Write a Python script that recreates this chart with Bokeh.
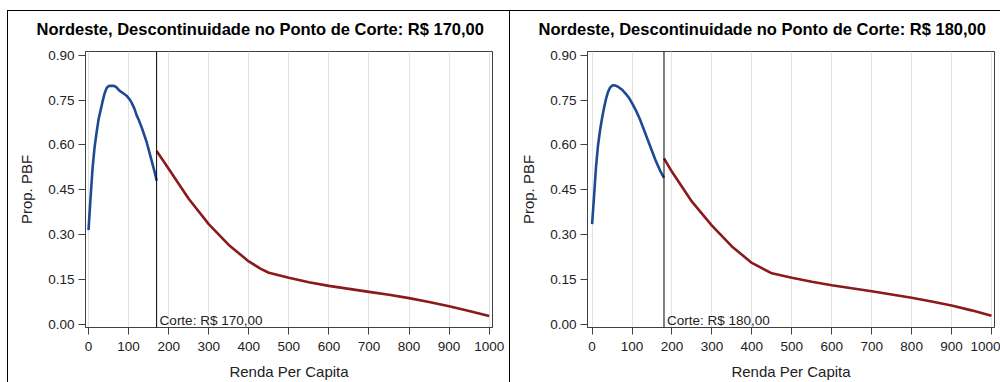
from bokeh.plotting import figure
from bokeh.models import Range1d, FixedTicker, PrintfTickFormatter, Span, Label, Title
from bokeh.layouts import row
from bokeh.embed import file_html
from bokeh.resources import INLINE

x_ticks = [0, 100, 200, 300, 400, 500, 600, 700, 800, 900, 1000]
y_ticks = [0.0, 0.15, 0.30, 0.45, 0.60, 0.75, 0.90]

cut_left = 170
cut_right = 180

# Left panel (cut 170)
l_blue_x = [0, 5, 10, 15, 20, 25, 30, 35, 40, 45, 50, 55, 60, 65, 70, 75, 80, 85, 90, 95,
            100, 105, 110, 115, 120, 125, 130, 135, 140, 145, 150, 155, 160, 165, 170]
l_blue_y = [0.315, 0.42, 0.52, 0.59, 0.64, 0.685, 0.715, 0.745, 0.772, 0.79, 0.797, 0.798,
            0.798, 0.797, 0.793, 0.785, 0.779, 0.775, 0.770, 0.765, 0.757, 0.748, 0.735, 0.72,
            0.70, 0.685, 0.668, 0.65, 0.63, 0.61, 0.585, 0.56, 0.535, 0.51, 0.48]
l_red_x = [170, 200, 250, 300, 350, 400, 430, 450, 500, 550, 600, 650, 700, 750, 800, 850,
           900, 950, 1000]
l_red_y = [0.58, 0.52, 0.42, 0.335, 0.265, 0.21, 0.185, 0.172, 0.155, 0.14, 0.128, 0.118,
           0.108, 0.098, 0.087, 0.074, 0.06, 0.044, 0.027]

# Right panel (cut 180)
r_blue_x = [0, 5, 10, 15, 20, 25, 30, 35, 40, 45, 50, 55, 60, 65, 70, 75, 80, 85, 90, 95,
            100, 110, 120, 130, 140, 150, 160, 170, 180]
r_blue_y = [0.335, 0.43, 0.53, 0.60, 0.65, 0.69, 0.725, 0.755, 0.778, 0.792, 0.799, 0.80,
            0.798, 0.795, 0.79, 0.785, 0.778, 0.77, 0.762, 0.752, 0.74, 0.715, 0.685, 0.65,
            0.615, 0.58, 0.545, 0.515, 0.49]
r_red_x = [180, 200, 250, 300, 350, 400, 450, 500, 550, 600, 650, 700, 750, 800, 850, 900,
           950, 1000]
r_red_y = [0.555, 0.51, 0.41, 0.33, 0.26, 0.205, 0.17, 0.155, 0.142, 0.13, 0.12, 0.11,
           0.099, 0.088, 0.076, 0.062, 0.046, 0.028]

BLUE = "#1f4a92"
RED = "#8b1a1a"
FONT = "Liberation Sans"
Y0, Y1 = -0.0114, 0.913


def make_panel(cut, bx, by, rx, ry, width, mb_right, xr, styles):
    p = figure(width=width, height=372, x_range=Range1d(*xr), y_range=Range1d(Y0, Y1),
               output_backend="svg", toolbar_location=None,
               min_border_left=77, min_border_right=mb_right, min_border_top=40,
               min_border_bottom=56)
    p.styles = styles
    p.outline_line_color = "#404040"
    p.outline_line_width = 1
    p.background_fill_color = "white"
    p.border_fill_color = "white"

    # spacer between frame and title
    p.add_layout(Title(text=" ", text_font=FONT, text_font_size="7px", standoff=0), "above")
    p.add_layout(Title(text="Nordeste, Descontinuidade no Ponto de Corte: R$ %d,00" % cut,
                       align="left", offset=-49, text_font=FONT, text_font_size="16.5px",
                       text_font_style="bold", text_color="black", standoff=10), "above")

    p.xgrid.ticker = FixedTicker(ticks=x_ticks)
    p.xgrid.grid_line_color = "#e3e3e3"
    p.ygrid.grid_line_color = None

    for ax in (p.xaxis[0], p.yaxis[0]):
        ax.axis_line_color = "#404040"
        ax.major_tick_line_color = "#404040"
        ax.major_tick_out = 7
        ax.major_tick_in = 0
        ax.minor_tick_line_color = None
        ax.major_label_text_font = FONT
        ax.major_label_text_font_size = "13.5px"
        ax.major_label_text_color = "#222222"
        ax.axis_label_text_font = FONT
        ax.axis_label_text_font_size = "15px"
        ax.axis_label_text_font_style = "normal"
        ax.axis_label_text_color = "#222222"

    p.xaxis[0].ticker = FixedTicker(ticks=x_ticks)
    p.xaxis[0].axis_label = "Renda Per Capita"
    p.xaxis[0].major_label_standoff = 7
    p.xaxis[0].axis_label_standoff = 9

    p.yaxis[0].ticker = FixedTicker(ticks=y_ticks)
    p.yaxis[0].formatter = PrintfTickFormatter(format="%.2f")
    p.yaxis[0].axis_label = "Prop. PBF"
    p.yaxis[0].major_label_standoff = 4
    p.yaxis[0].axis_label_standoff = 10

    p.line(bx, by, line_color=BLUE, line_width=2.6)
    p.line(rx, ry, line_color=RED, line_width=2.6)

    p.add_layout(Span(location=cut, dimension="height", line_color="black", line_width=1))
    p.add_layout(Label(x=cut, y=0.0, x_offset=3, y_offset=4, text="Corte: R$ %d,00" % cut,
                       text_font=FONT, text_font_size="13.5px", text_color="#222222",
                       text_baseline="alphabetic", text_align="left"))
    return p


p1 = make_panel(cut_left, l_blue_x, l_blue_y, l_red_x, l_red_y, 503, 19, (-7.5, 1008.3),
                {"border-left": "1px solid black", "border-top": "1px solid black",
                 "border-right": "1px solid black"})
p2 = make_panel(cut_right, r_blue_x, r_blue_y, r_red_x, r_red_y, 490, 6, (-11.5, 1007.5),
                {"border-top": "1px solid black"})

layout = row(p1, p2)
layout.margin = (10, 0, 0, 7)

open("out.html", "w").write(file_html(layout, INLINE))
